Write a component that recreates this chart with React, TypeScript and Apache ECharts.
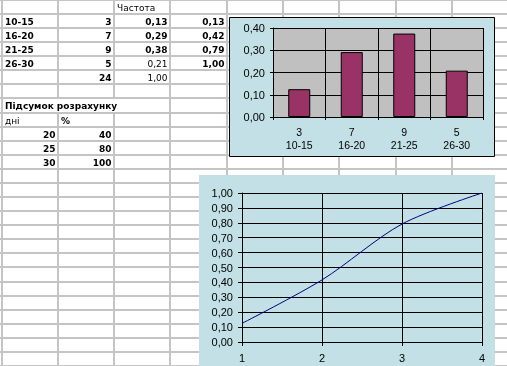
import React, { useEffect, useRef } from "react";
import * as echarts from "echarts";

// ---- data ----
const rangeLabels = ["10-15", "16-20", "21-25", "26-30"];
const counts = ["3", "7", "9", "5"];
const relFreqText = ["0,13", "0,29", "0,38", "0,21"];
const cumFreqText = ["0,13", "0,42", "0,79", "1,00"];
const totalCount = "24";
const totalFreq = "1,00";
const headerFreq = "Частота";
const summaryTitle = "Підсумок розрахунку";
const summaryHeaders = ["дні", "%"];
const summaryDays = ["20", "25", "30"];
const summaryPct = ["40", "80", "100"];

const barCategories = ["3\n10-15", "7\n16-20", "9\n21-25", "5\n26-30"];
const barValues = [0.125, 0.2917, 0.375, 0.2083];
const lineCategories = ["1", "2", "3", "4"];
const lineValues = [0.125, 0.4167, 0.7917, 1.0];
const fmt = (v: number) => v.toFixed(2).replace(".", ",");

const W = 507;
const H = 366;
const CELL_FONT = '"DejaVu Sans", sans-serif';
const AX_FONT = '"Liberation Sans", Arial, sans-serif';
const BOX = "#c2e0e5";

export default function App() {
  const ref = useRef<HTMLDivElement>(null);
  useEffect(() => {
    if (!ref.current) return;
    const chart = echarts.init(ref.current, null, { renderer: "svg" });

    const colX: number[] = [];
    for (let k = 0; k < 10; k++) colX.push(Math.round(1.5 + 56.3 * k));
    const rowY: number[] = [0];
    for (let k = 0; k < 27; k++) rowY.push(Math.round(14 + 14.08 * k));

    const g: any[] = [];
    g.push({ type: "rect", z: 0, shape: { x: 0, y: 0, width: W, height: H }, style: { fill: "#fff" } });
    const gl = { stroke: "#c4c4c4", lineWidth: 2 };
    rowY.forEach((y) => {
      if (y <= H) g.push({ type: "line", z: 0, shape: { x1: 0, y1: y, x2: W, y2: y }, style: gl });
    });
    colX.forEach((x, k) => {
      if (k === 1 || k === 2) {
        g.push({ type: "line", z: 0, shape: { x1: x, y1: 0, x2: x, y2: rowY[7] + 1 }, style: gl });
        g.push({ type: "line", z: 0, shape: { x1: x, y1: rowY[8] - 1, x2: x, y2: H }, style: gl });
      } else {
        g.push({ type: "line", z: 0, shape: { x1: x, y1: 0, x2: x, y2: H }, style: gl });
      }
    });

    const cell = (col: number, row: number, text: string, align: "left" | "right", bold = true) => {
      const x = align === "left" ? colX[col] + 3 : colX[col + 1] - 2.5;
      const y = (rowY[row] + rowY[row + 1]) / 2 + 0.5;
      g.push({
        type: "text",
        z: 1,
        x,
        y,
        style: {
          text,
          fill: "#000",
          font: `${bold ? "bold" : "normal"} 9px ${CELL_FONT}`,
          align,
          verticalAlign: "middle",
        },
      });
    };
    cell(2, 0, headerFreq, "left", false);
    rangeLabels.forEach((t, i) => {
      cell(0, i + 1, t, "left");
      cell(1, i + 1, counts[i], "right");
      cell(2, i + 1, relFreqText[i], "right", i < 3);
      cell(3, i + 1, cumFreqText[i], "right");
    });
    cell(1, 5, totalCount, "right");
    cell(2, 5, totalFreq, "right", false);
    cell(0, 7, summaryTitle, "left");
    cell(0, 8, summaryHeaders[0], "left", false);
    cell(1, 8, summaryHeaders[1], "left");
    summaryDays.forEach((d, i) => {
      cell(0, 9 + i, d, "right");
      cell(1, 9 + i, summaryPct[i], "right");
    });

    // chart boxes
    g.push({ type: "rect", z: 1, shape: { x: 229.5, y: 17.5, width: 265, height: 139 }, style: { fill: BOX, stroke: "#000", lineWidth: 1 } });
    g.push({ type: "rect", z: 1, shape: { x: 199, y: 175, width: 296, height: 200 }, style: { fill: BOX } });

    const axLabel = { color: "#000", fontFamily: AX_FONT, fontSize: 11 };
    const blk = { color: "#000", width: 1 };

    chart.setOption({
      animation: false,
      graphic: { elements: g },
      grid: [
        { left: 273, top: 28, width: 210, height: 89, show: true, backgroundColor: "#c0c0c0", borderWidth: 0, z: 2 },
        { left: 242, top: 193, width: 240, height: 149, show: false, z: 2 },
      ],
      xAxis: [
        {
          type: "category",
          gridIndex: 0,
          data: barCategories,
          z: 3,
          axisLine: { lineStyle: blk },
          axisTick: { show: true, length: 3, lineStyle: blk },
          splitLine: { show: true, lineStyle: blk },
          axisLabel: { ...axLabel, fontSize: 10.5, lineHeight: 13.5, margin: 8, interval: 0 },
        },
        {
          type: "category",
          gridIndex: 1,
          data: lineCategories,
          boundaryGap: false,
          z: 3,
          axisLine: { lineStyle: blk },
          axisTick: { show: true, length: 4, lineStyle: blk },
          splitLine: { show: true, lineStyle: blk },
          axisLabel: { ...axLabel, margin: 10, interval: 0 },
        },
      ],
      yAxis: [
        {
          type: "value",
          gridIndex: 0,
          min: 0,
          max: 0.4,
          interval: 0.1,
          z: 3,
          axisLine: { show: true, lineStyle: blk },
          axisTick: { show: true, length: 3, lineStyle: blk },
          splitLine: { show: true, lineStyle: blk },
          axisLabel: { ...axLabel, margin: 8, formatter: (v: number) => fmt(v) },
        },
        {
          type: "value",
          gridIndex: 1,
          min: 0,
          max: 1,
          interval: 0.1,
          z: 3,
          axisLine: { show: true, lineStyle: blk },
          axisTick: { show: true, length: 4, lineStyle: blk },
          splitLine: { show: true, lineStyle: blk },
          axisLabel: { ...axLabel, margin: 9, formatter: (v: number) => fmt(v) },
        },
      ],
      series: [
        {
          type: "bar",
          xAxisIndex: 0,
          yAxisIndex: 0,
          data: barValues,
          barWidth: 22,
          z: 4,
          itemStyle: { color: "#993366", borderColor: "#000", borderWidth: 1 },
        },
        {
          type: "line",
          xAxisIndex: 1,
          yAxisIndex: 1,
          data: lineValues,
          smooth: 0.3,
          showSymbol: false,
          symbol: "none",
          z: 4,
          lineStyle: { color: "#000080", width: 1 },
        },
      ],
    });
    return () => chart.dispose();
  }, []);
  return <div ref={ref} style={{ position: "fixed", left: 0, top: 0, width: W, height: H }} />;
}
